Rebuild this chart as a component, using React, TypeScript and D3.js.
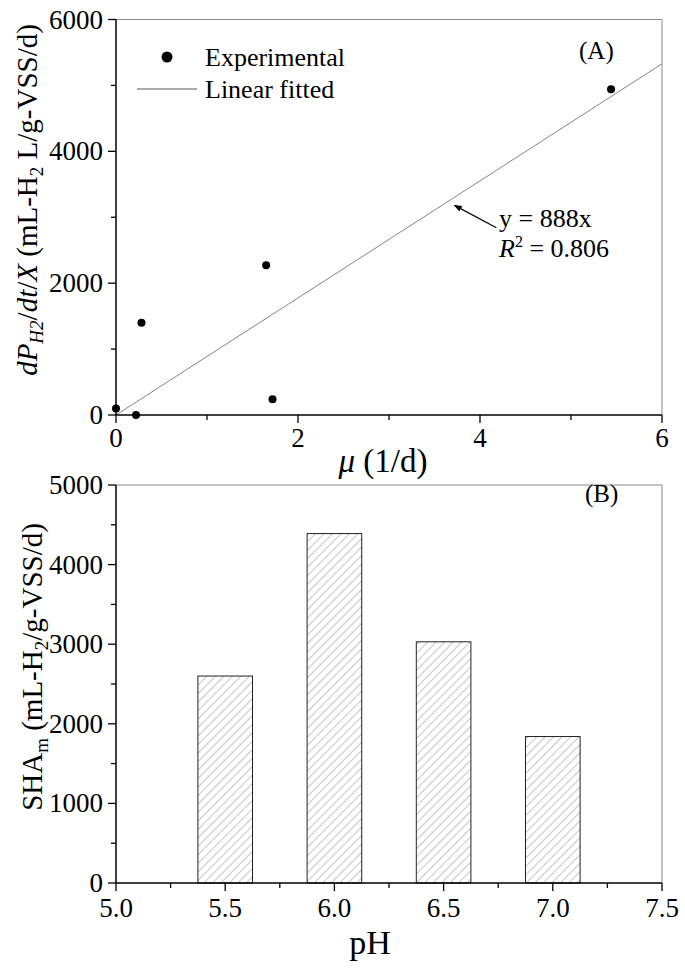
import React from 'react';
import * as d3 from 'd3';

// panel A: specific hydrogen production rate vs growth rate
const muValues = [0.0, 0.22, 0.28, 1.65, 1.72, 5.44];
const rateValues = [100, 0, 1400, 2270, 240, 4940];
const fitSlope = 888;
const fitDomain = [0, 6];
const fitLabel = 'y = 888x';
const r2Label = '0.806';

// panel B: SHA_m vs pH
const phValues = [5.5, 6.0, 6.5, 7.0];
const shaValues = [2600, 4390, 3030, 1840];

const topXTicks = [0, 2, 4, 6];
const topXMinor = [1, 3, 5];
const topYTicks = [0, 2000, 4000, 6000];
const topYMinor = [1000, 3000, 5000];
const botXTicks = [5.0, 5.5, 6.0, 6.5, 7.0, 7.5];
const botXMinor = [5.25, 5.75, 6.25, 6.75, 7.25];
const botYTicks = [0, 1000, 2000, 3000, 4000, 5000];
const botYMinor = [500, 1500, 2500, 3500, 4500];

const FONT = "'Liberation Serif', 'Times New Roman', serif";
const W = 685;
const H = 972;
const left = 116;
const right = 662;

export default function App() {
  // top panel scales
  const xA = d3.scaleLinear().domain([0, 6]).range([left, right]);
  const yA = d3.scaleLinear().domain([0, 6000]).range([415, 19.5]);
  // bottom panel scales
  const xB = d3.scaleLinear().domain([5, 7.5]).range([left, right]);
  const yB = d3.scaleLinear().domain([0, 5000]).range([883, 485]);
  const barW = xB(5.25) - xB(5);

  const fitLine = d3
    .line<number>()
    .x(d => xA(d))
    .y(d => yA(fitSlope * d));

  const axisCol = '#000';
  const frameCol = '#8a8a8a';
  const tickFont = 27;

  const yAxis = (
    y: d3.ScaleLinear<number, number>,
    major: number[],
    minor: number[],
    fmt: (v: number) => string
  ) => (
    <g>
      {major.map(t => (
        <g key={'M' + t}>
          <line x1={left - 8} x2={left} y1={y(t)} y2={y(t)} stroke={axisCol} strokeWidth={1.3} />
          <text x={left - 13} y={y(t) + 9} textAnchor="end" fontSize={tickFont}>
            {fmt(t)}
          </text>
        </g>
      ))}
      {minor.map(t => (
        <line key={'m' + t} x1={left - 5} x2={left} y1={y(t)} y2={y(t)} stroke={axisCol} strokeWidth={1.3} />
      ))}
    </g>
  );

  const xAxis = (
    x: d3.ScaleLinear<number, number>,
    y0: number,
    major: number[],
    minor: number[],
    fmt: (v: number) => string,
    labelDy: number
  ) => (
    <g>
      {major.map(t => (
        <g key={'M' + t}>
          <line x1={x(t)} x2={x(t)} y1={y0} y2={y0 + 8} stroke={axisCol} strokeWidth={1.3} />
          <text x={x(t)} y={y0 + labelDy} textAnchor="middle" fontSize={tickFont}>
            {fmt(t)}
          </text>
        </g>
      ))}
      {minor.map(t => (
        <line key={'m' + t} x1={x(t)} x2={x(t)} y1={y0} y2={y0 + 5} stroke={axisCol} strokeWidth={1.3} />
      ))}
    </g>
  );

  // arrow annotation, in data units of panel A
  const arrowTip = [3.72, 3180];
  const arrowTail = [4.18, 2840];

  return (
    <svg
      width={W}
      height={H}
      style={{ position: 'absolute', left: 0, top: 0, background: '#fff' }}
      fontFamily={FONT}
    >
      <defs>
        <pattern id="hatch" width={6} height={6} patternUnits="userSpaceOnUse" patternTransform="rotate(45)">
          <line x1={0} y1={0} x2={0} y2={6} stroke="#8c8c8c" strokeWidth={1} />
        </pattern>
        <marker id="arrow" viewBox="0 0 10 10" refX={9} refY={5} markerWidth={8} markerHeight={8} orient="auto-start-reverse" markerUnits="userSpaceOnUse">
          <path d="M0,1 L10,5 L0,9 z" fill="#000" />
        </marker>
      </defs>

      {/* ---------- panel A ---------- */}
      <line x1={left} x2={right} y1={yA(6000)} y2={yA(6000)} stroke={frameCol} />
      <line x1={right} x2={right} y1={yA(6000)} y2={yA(0)} stroke={frameCol} />
      <path d={fitLine(fitDomain) || ''} fill="none" stroke="#777" strokeWidth={0.9} />
      {muValues.map((m, i) => (
        <circle key={i} cx={xA(m)} cy={yA(rateValues[i])} r={4} fill="#000" />
      ))}
      <line x1={left} x2={right} y1={yA(0)} y2={yA(0)} stroke={axisCol} strokeWidth={1.5} />
      <line x1={left} x2={left} y1={yA(0)} y2={yA(6000)} stroke={axisCol} strokeWidth={1.5} />
      {yAxis(yA, topYTicks, topYMinor, v => String(v))}
      {xAxis(xA, yA(0), topXTicks, topXMinor, v => String(v), 32)}

      {/* legend */}
      <circle cx={167} cy={57} r={5.5} fill="#000" />
      <text x={205} y={66} fontSize={26}>Experimental</text>
      <line x1={137} x2={197} y1={89} y2={89} stroke="#555" strokeWidth={1} />
      <text x={205} y={98} fontSize={26}>Linear fitted</text>

      <text x={579} y={59} fontSize={25}>(A)</text>

      <line
        x1={xA(arrowTail[0])}
        y1={yA(arrowTail[1])}
        x2={xA(arrowTip[0])}
        y2={yA(arrowTip[1])}
        stroke="#000"
        strokeWidth={1.2}
        markerEnd="url(#arrow)"
      />
      <text x={499} y={227} fontSize={26}>{fitLabel}</text>
      <text x={499} y={257} fontSize={26}>
        <tspan fontStyle="italic">R</tspan>
        <tspan dy={-10} fontSize={16}>2</tspan>
        <tspan dy={10}> = {r2Label}</tspan>
      </text>

      <text x={383} y={472} textAnchor="middle" fontSize={33}>
        <tspan fontStyle="italic">μ</tspan> (1/d)
      </text>

      <text transform="translate(37,200) rotate(-90)" textAnchor="middle" fontSize={29}>
        <tspan fontStyle="italic">dP</tspan>
        <tspan fontStyle="italic" fontSize={19} dy={6}>H2</tspan>
        <tspan dy={-6}>/</tspan>
        <tspan fontStyle="italic">dt</tspan>
        <tspan>/</tspan>
        <tspan fontStyle="italic">X</tspan>
        <tspan> (mL-H</tspan>
        <tspan fontSize={19} dy={6}>2</tspan>
        <tspan dy={-6}> L/g-VSS/d)</tspan>
      </text>

      {/* ---------- panel B ---------- */}
      <line x1={left} x2={right} y1={yB(5000)} y2={yB(5000)} stroke={frameCol} />
      <line x1={right} x2={right} y1={yB(5000)} y2={yB(0)} stroke={frameCol} />
      {phValues.map((p, i) => (
        <rect
          key={p}
          x={xB(p) - barW / 2}
          y={yB(shaValues[i])}
          width={barW}
          height={yB(0) - yB(shaValues[i])}
          fill="url(#hatch)"
          stroke="#222"
          strokeWidth={1}
        />
      ))}
      <line x1={left} x2={right} y1={yB(0)} y2={yB(0)} stroke={axisCol} strokeWidth={1.5} />
      <line x1={left} x2={left} y1={yB(0)} y2={yB(5000)} stroke={axisCol} strokeWidth={1.5} />
      {yAxis(yB, botYTicks, botYMinor, v => String(v))}
      {xAxis(xB, yB(0), botXTicks, botXMinor, v => v.toFixed(1), 34)}

      <text x={585} y={502} fontSize={25}>(B)</text>

      <text x={370} y={954} textAnchor="middle" fontSize={34}>pH</text>

      <text transform="translate(42,667) rotate(-90)" textAnchor="middle" fontSize={29}>
        <tspan>SHA</tspan>
        <tspan fontSize={19} dy={6}>m</tspan>
        <tspan dy={-6}> (mL-H</tspan>
        <tspan fontSize={19} dy={6}>2</tspan>
        <tspan dy={-6}>/g-VSS/d)</tspan>
      </text>
    </svg>
  );
}
